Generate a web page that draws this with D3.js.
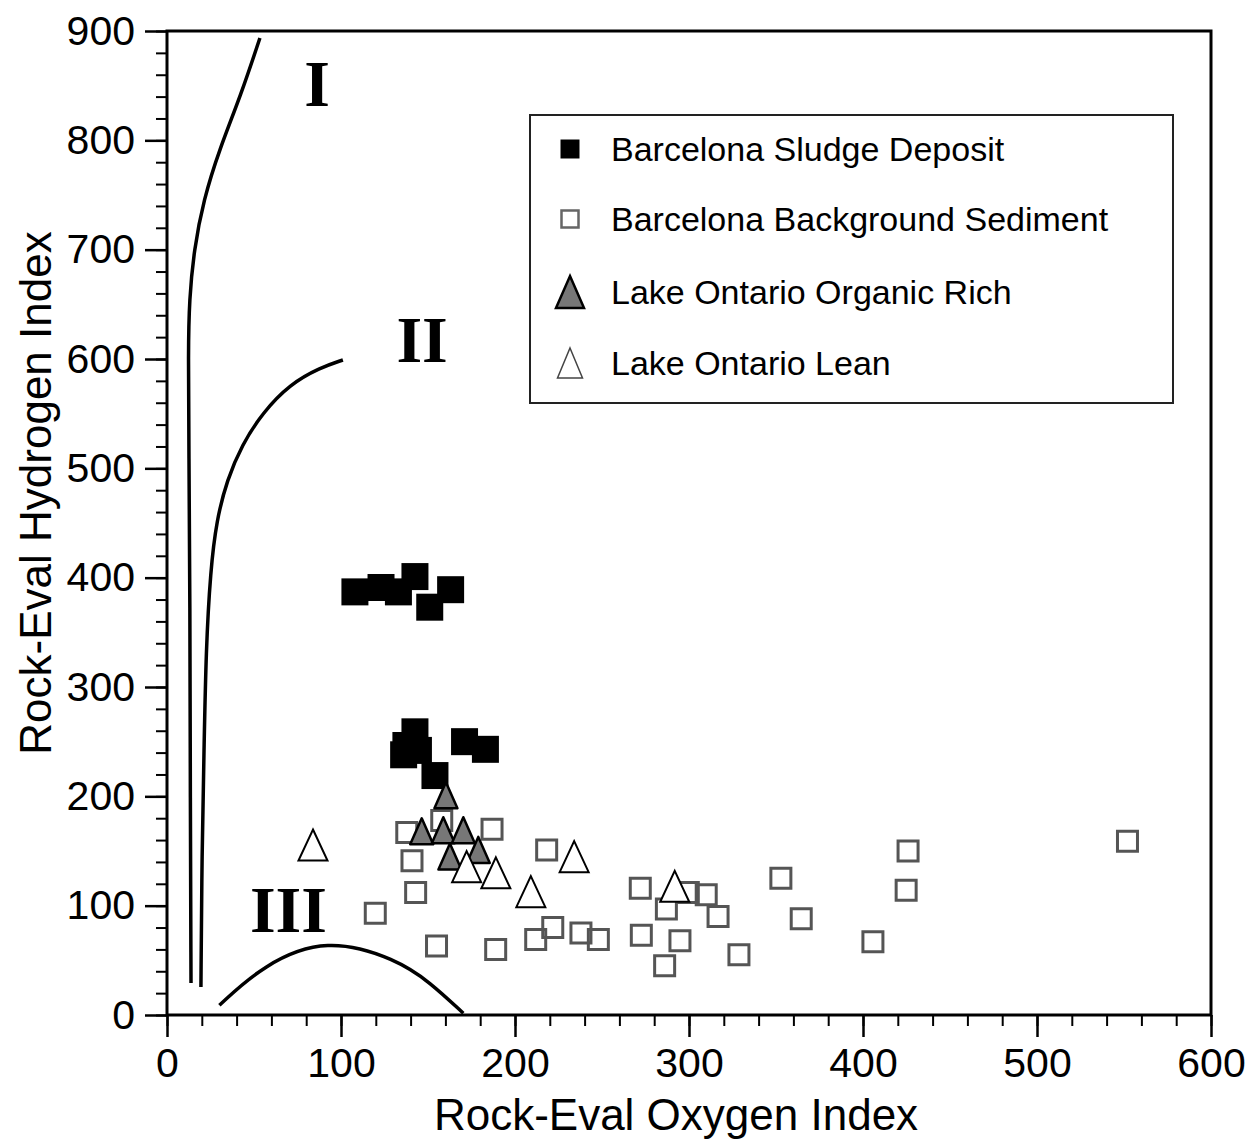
<!DOCTYPE html>
<html>
<head>
<meta charset="utf-8">
<script src="https://cdn.jsdelivr.net/npm/d3@7"></script>
<style>
  body { margin: 0; background: #fff; }
  text { font-family: "Liberation Sans", Arial, Helvetica, sans-serif; }
</style>
</head>
<body>
<div id="chart"></div>
<script>
// Barcelona sludge deposit (filled squares)
const sludgeOI = [108, 123, 133, 142.5, 151, 163, 142.5, 137.3, 136, 144.5, 171, 183, 154];
const sludgeHI = [387, 391, 387, 401, 373, 389, 259, 246.5, 238, 242, 250, 243, 219];

// Barcelona background sediment (open squares)
const bgOI = [137.8, 157.9, 186.8, 140.8, 142.9, 119.7, 154.9, 188.9, 211.9, 221.7, 218.2, 237.9, 247.9,
  272, 287, 272.6, 286, 294.8, 299.6, 309.9, 316.7, 328.7, 352.8, 364.5, 405.7, 425.9, 424.8, 552];
const bgHI = [167, 178, 170, 141, 112, 93, 63, 60, 69, 80, 151, 75, 69,
  116, 97, 73, 45, 68, 112, 110, 90, 55, 125, 88, 67, 150, 114, 159];

// Lake Ontario organic rich (grey triangles)
const richOI = [160.3, 146.4, 158.8, 170.3, 162.6, 178.9];
const richHI = [201, 168, 169, 169, 145, 151];

// Lake Ontario lean (open triangles)
const leanOI = [83.9, 172.2, 189, 209.1, 234, 291.8];
const leanHI = [155.5, 135.7, 130, 112.8, 144.8, 117.7];

// kerogen type boundary curves
const typeIOI = [53.4, 42.5, 30, 21, 15.5, 12.8, 12.2, 12.6, 13.2, 13.4, 13.8];
const typeIHI = [893.6, 841.5, 791.2, 745.5, 699.8, 654, 608, 516.8, 379.6, 196.6, 29.3];
const typeIIOI = [101.1, 87.9, 70.7, 55, 43, 34.5, 28.5, 25, 22.4, 21.3, 20.1, 19.5];
const typeIIHI = [599.1, 592, 577, 551, 521.3, 489.3, 452.7, 407, 333.8, 242.4, 150.9, 25.6];
const typeIIIOI = [30.1, 55.3, 91.8, 132.0, 151.1, 170.3];
const typeIIIHI = [8.9, 46, 71, 51, 30, 1.6];

const typeLabels = ['I', 'II', 'III'];
const typeLabelOI = [86.2, 146.6, 69.8];
const typeLabelHI = [831.4, 597.5, 76.2];

const xTicks = [0, 100, 200, 300, 400, 500, 600];
const yTicks = [0, 100, 200, 300, 400, 500, 600, 700, 800, 900];

const legendLabels = ['Barcelona Sludge Deposit', 'Barcelona Background Sediment',
  'Lake Ontario Organic Rich', 'Lake Ontario Lean'];

const width = 1249, height = 1143;
const margin = { top: 31, right: 38, bottom: 128, left: 167 };

const svg = d3.select('#chart')
  .append('svg')
  .attr('width', width)
  .attr('height', height);

const x = d3.scaleLinear().domain([0, 600]).range([margin.left, width - margin.right]);
const y = d3.scaleLinear().domain([0, 900]).range([height - margin.bottom, margin.top]);

// minor ticks
svg.append('g')
  .attr('transform', `translate(0, ${y(0)})`)
  .call(d3.axisBottom(x).tickValues(d3.range(0, 601, 20)).tickSize(11).tickFormat(''))
  .call(g => g.select('.domain').remove())
  .selectAll('line').attr('stroke-width', 2);
svg.append('g')
  .attr('transform', `translate(${x(0)}, 0)`)
  .call(d3.axisLeft(y).tickValues(d3.range(0, 901, 20)).tickSize(11).tickFormat(''))
  .call(g => g.select('.domain').remove())
  .selectAll('line').attr('stroke-width', 2);

// major ticks + labels
const xAxis = svg.append('g')
  .attr('transform', `translate(0, ${y(0)})`)
  .call(d3.axisBottom(x).tickValues(xTicks).tickSize(22).tickPadding(11).tickFormat(d3.format('d')));
xAxis.select('.domain').remove();
xAxis.selectAll('line').attr('stroke-width', 2.5);
xAxis.selectAll('text').attr('font-size', 41).attr('fill', '#000')
  .style('font-family', '"Liberation Sans", Arial, sans-serif');

const yAxis = svg.append('g')
  .attr('transform', `translate(${x(0)}, 0)`)
  .call(d3.axisLeft(y).tickValues(yTicks).tickSize(22).tickPadding(10).tickFormat(d3.format('d')));
yAxis.select('.domain').remove();
yAxis.selectAll('line').attr('stroke-width', 2.5);
yAxis.selectAll('text').attr('font-size', 41).attr('fill', '#000')
  .style('font-family', '"Liberation Sans", Arial, sans-serif');

// frame
svg.append('rect')
  .attr('x', x(0)).attr('y', y(900))
  .attr('width', x(600) - x(0)).attr('height', y(0) - y(900))
  .attr('fill', 'none').attr('stroke', '#000').attr('stroke-width', 3);

// axis titles
svg.append('text')
  .attr('x', (x(0) + x(600)) / 2 - 13).attr('y', 1130)
  .attr('text-anchor', 'middle').attr('font-size', 44)
  .text('Rock-Eval Oxygen Index');
svg.append('text')
  .attr('transform', `translate(51, ${(y(0) + y(900)) / 2 - 30}) rotate(-90)`)
  .attr('text-anchor', 'middle').attr('font-size', 44)
  .text('Rock-Eval Hydrogen Index');

// boundary curves
const line = d3.line()
  .x(d => x(d[0]))
  .y(d => y(d[1]))
  .curve(d3.curveBasis);
[[typeIOI, typeIHI], [typeIIOI, typeIIHI], [typeIIIOI, typeIIIHI]].forEach(([ox, hy]) => {
  svg.append('path')
    .attr('d', line(d3.zip(ox, hy)))
    .attr('fill', 'none')
    .attr('stroke', '#000')
    .attr('stroke-width', 3.5);
});

svg.selectAll('.type-label')
  .data(typeLabels)
  .enter()
  .append('text')
  .attr('class', 'type-label')
  .attr('x', (d, i) => x(typeLabelOI[i]))
  .attr('y', (d, i) => y(typeLabelHI[i]))
  .attr('text-anchor', 'middle')
  .style('font-family', '"Liberation Serif", "Times New Roman", serif')
  .attr('font-weight', 'bold')
  .attr('font-size', 66)
  .text(d => d);

// marker shapes
function squarePath(s) {
  return `M${-s / 2},${-s / 2}h${s}v${s}h${-s}Z`;
}
function triPath(w, h) {
  return `M0,${-h / 2}L${w / 2},${h / 2}L${-w / 2},${h / 2}Z`;
}

// background sediment
svg.append('g')
  .selectAll('path')
  .data(d3.zip(bgOI, bgHI))
  .enter()
  .append('path')
  .attr('d', squarePath(20))
  .attr('transform', d => `translate(${x(d[0])}, ${y(d[1])})`)
  .attr('fill', 'none')
  .attr('stroke', '#555')
  .attr('stroke-width', 3);

// sludge deposit
svg.append('g')
  .selectAll('path')
  .data(d3.zip(sludgeOI, sludgeHI))
  .enter()
  .append('path')
  .attr('d', squarePath(27))
  .attr('transform', d => `translate(${x(d[0])}, ${y(d[1])})`)
  .attr('fill', '#000');

// organic rich
svg.append('g')
  .selectAll('path')
  .data(d3.zip(richOI, richHI))
  .enter()
  .append('path')
  .attr('d', triPath(23, 26))
  .attr('transform', d => `translate(${x(d[0])}, ${y(d[1])})`)
  .attr('fill', '#777')
  .attr('stroke', '#000')
  .attr('stroke-width', 2.5)
  .attr('stroke-linejoin', 'round');

// lean
svg.append('g')
  .selectAll('path')
  .data(d3.zip(leanOI, leanHI))
  .enter()
  .append('path')
  .attr('d', triPath(29, 31))
  .attr('transform', d => `translate(${x(d[0])}, ${y(d[1])})`)
  .attr('fill', '#fff')
  .attr('stroke', '#000')
  .attr('stroke-width', 2);

// legend
const legend = svg.append('g').attr('transform', 'translate(530, 115)');
legend.append('rect')
  .attr('width', 643).attr('height', 288)
  .attr('fill', '#fff').attr('stroke', '#222').attr('stroke-width', 2);

const rowY = [34, 104, 177, 248];
const legendMarks = [
  { d: squarePath(19), fill: '#000', stroke: 'none', sw: 0 },
  { d: squarePath(17), fill: '#fff', stroke: '#666', sw: 2.5 },
  { d: triPath(28, 32), fill: '#777', stroke: '#000', sw: 2.5 },
  { d: triPath(25, 30), fill: '#fff', stroke: '#444', sw: 1.5 }
];
const rows = legend.selectAll('.row')
  .data(legendLabels)
  .enter()
  .append('g')
  .attr('transform', (d, i) => `translate(0, ${rowY[i]})`);
rows.append('path')
  .attr('d', (d, i) => legendMarks[i].d)
  .attr('transform', 'translate(40, 0)')
  .attr('fill', (d, i) => legendMarks[i].fill)
  .attr('stroke', (d, i) => legendMarks[i].stroke)
  .attr('stroke-width', (d, i) => legendMarks[i].sw);
rows.append('text')
  .attr('x', 81)
  .attr('y', 12)
  .attr('font-size', 34)
  .text(d => d);
</script>
</body>
</html>
